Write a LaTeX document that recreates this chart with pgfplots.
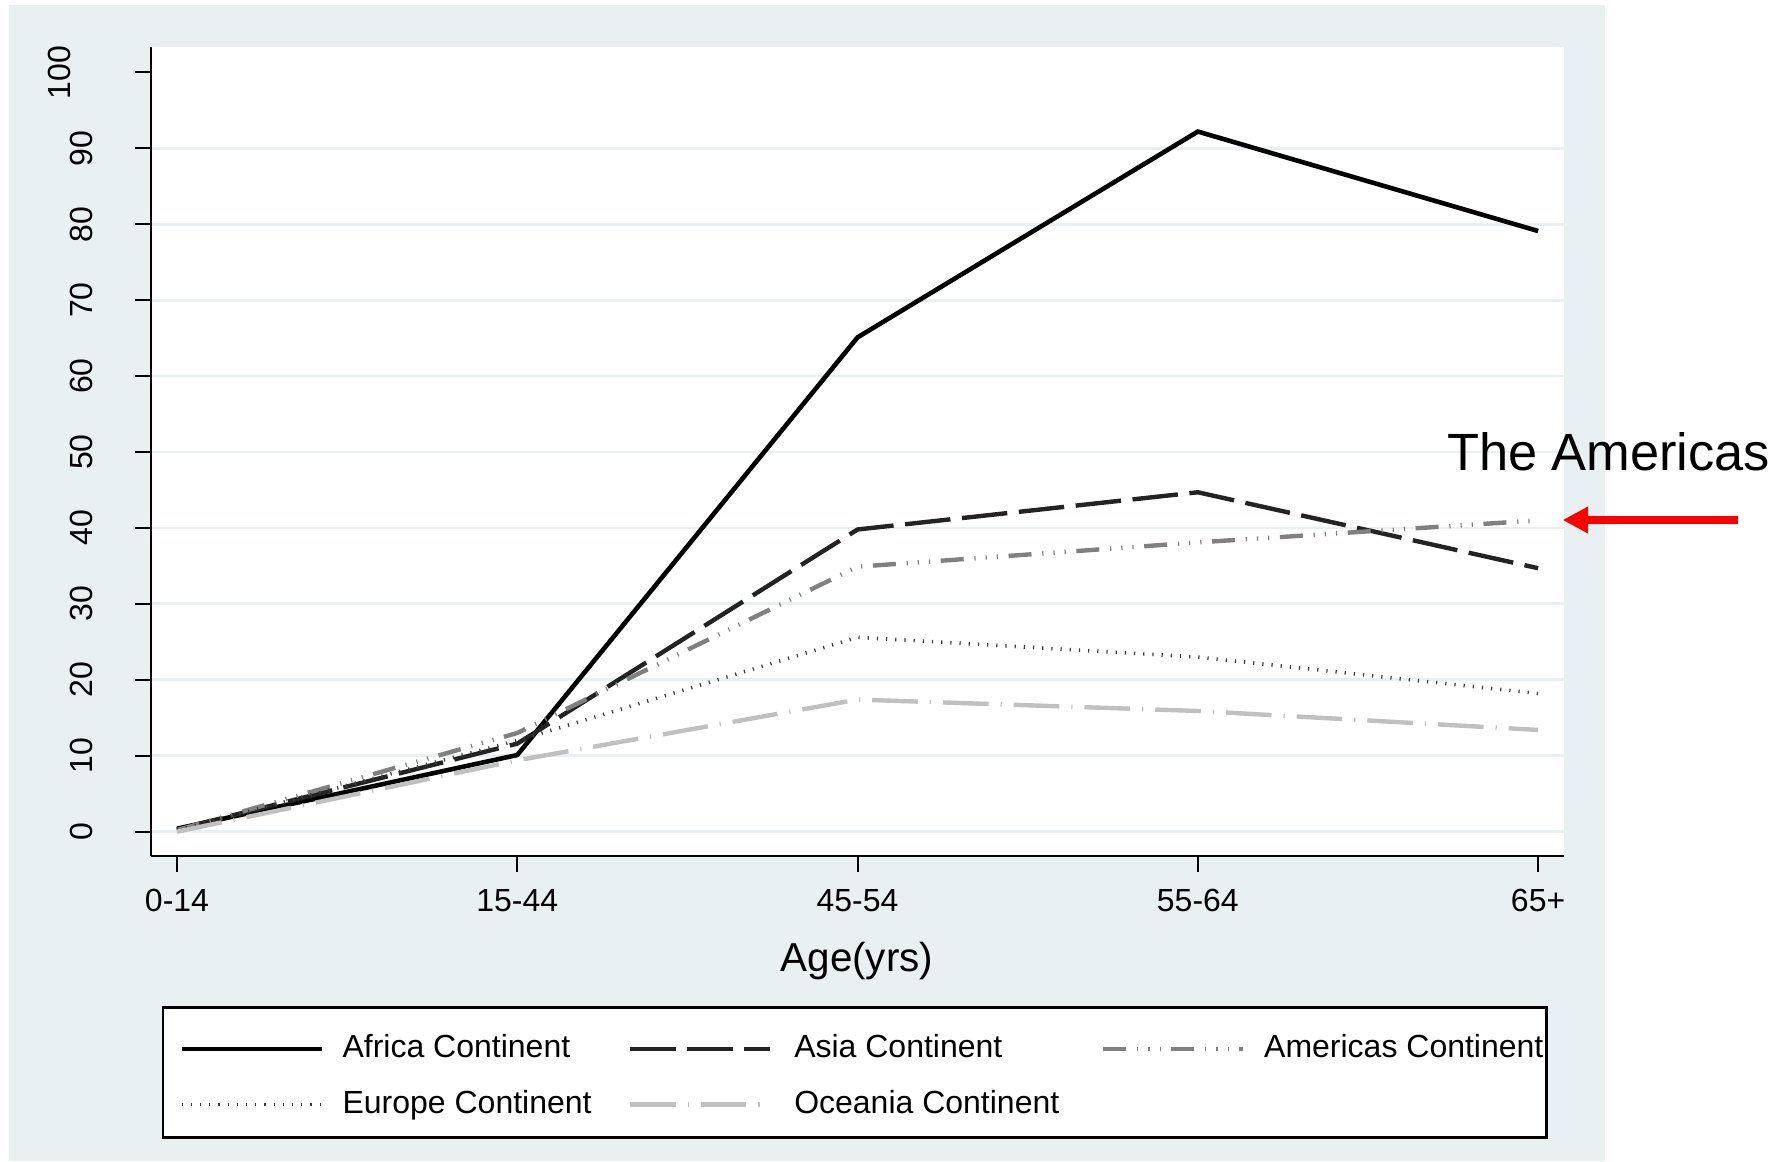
\documentclass[border=0pt]{standalone}
\usepackage{fontspec}
\setmainfont{Liberation Sans}
\usepackage{pgfplots}
\pgfplotsset{compat=1.18}
\usetikzlibrary{arrows.meta}
\definecolor{bgc}{RGB}{232,240,242}
\definecolor{gridc}{RGB}{232,240,242}
\definecolor{asiac}{RGB}{35,35,35}
\definecolor{amerc}{RGB}{128,128,128}
\definecolor{eurc}{RGB}{60,60,60}
\definecolor{oceac}{RGB}{192,192,192}
\begin{document}
\begin{tikzpicture}
\path[use as bounding box] (-37.75pt,-76.25pt) rectangle (407.5pt,214pt);
\fill[bgc] (-35.5pt,-76.25pt) rectangle (363.5pt,212.75pt);
\draw[fill=white, line width=0.6pt] (3pt,-37.9pt) rectangle (348.9pt,-70.4pt);
\begin{axis}[
  at={(0pt,0pt)}, anchor=south west,
  scale only axis, width=353.25pt, height=202.3pt,
  xmin=-0.0764, xmax=4.076, ymin=-3.2, ymax=103.36,
  axis lines=left, axis line style={-, line width=0.6pt, black},
  axis background/.style={fill=white},
  xtick={0,1,2,3,4}, xticklabels={0-14,15-44,45-54,55-64,65+},
  ytick={0,10,...,90},
  extra y ticks={100}, extra y tick labels={\raisebox{5.5pt}{100}},
  extra y tick style={grid=none},
  ymajorgrids, major grid style={line width=0.7pt, color=gridc},
  tick align=outside, major tick length=3.9pt,
  tick style={black, line width=0.5pt},
  /pgf/number format/assume math mode=true,
  ticklabel style={font=\fontsize{8}{9.6}\selectfont, inner sep=0pt},
  xticklabel style={anchor=north},
  xticklabel shift=4.2pt,
  yticklabel style={rotate=90, anchor=south},
  yticklabel shift=10.5pt,
  xlabel={Age(yrs)},
  xlabel style={at={(axis description cs:0.4996,-0.1421)}, anchor=base, inner sep=0pt, font=\fontsize{10.1}{12}\selectfont},
  legend columns=3,
  legend cell align=left,
  legend image code/.code={\draw[#1] (0pt,0pt) -- (35pt,0pt);},
  legend style={draw=none, fill=none, inner sep=0pt,
    at={(axis description cs:0.01953,-0.2185)}, anchor=north west,
    font=\fontsize{8}{9.6}\selectfont,
    nodes={inner sep=0pt, text height=6pt, text depth=1.7pt},
    row sep=6.2pt,
    /tikz/every odd column/.append style={column sep=4.65pt},
    /tikz/every even column/.append style={column sep=9.05pt},
    /tikz/row 1 column 3/.style={column sep=5.5pt},
    /tikz/row 2 column 3/.style={column sep=5.5pt},
    /tikz/row 1 column 4/.style={column sep=10.47pt},
    /tikz/row 2 column 4/.style={column sep=10.47pt}},
]
\addplot[black, line width=1.15pt] coordinates {(0,0.4) (1,10.1) (2,65.1) (3,92.2) (4,79.1)};
\addlegendentry{Africa Continent}
\addplot[asiac, line width=1.1pt, dash pattern=on 11.4pt off 2.9pt] coordinates {(0,0.3) (1,11.6) (2,39.8) (3,44.7) (4,34.7)};
\addlegendentry{Asia Continent}
\addplot[amerc, line width=1.1pt, dash pattern=on 5.75pt off 2.7pt on 0.3pt off 2.5pt on 0.3pt off 2.5pt on 0.3pt off 2.65pt] coordinates {(0,0.2) (1,13.0) (2,34.9) (3,38.1) (4,41.0)};
\addlegendentry{Americas Continent}
\addplot[eurc, line width=0.9pt, dash pattern=on 0.3pt off 2pt] coordinates {(0,0.2) (1,12.0) (2,25.6) (3,23.0) (4,18.2)};
\addlegendentry{Europe Continent}
\addplot[oceac, line width=1.1pt, dash pattern=on 11.4pt off 3pt on 0.3pt off 3pt] coordinates {(0,0) (1,9.4) (2,17.4) (3,15.9) (4,13.4)};
\addlegendentry{Oceania Continent}
\end{axis}
\node[anchor=base west, inner sep=0pt, font=\fontsize{13.1}{15}\selectfont] at (323.8pt,96.3pt) {The Americas};
\draw[red, line width=2pt, -{Triangle[length=6.4pt,width=6.3pt]}] (396.8pt,84pt) -- (352.9pt,84pt);
\end{tikzpicture}
\end{document}
